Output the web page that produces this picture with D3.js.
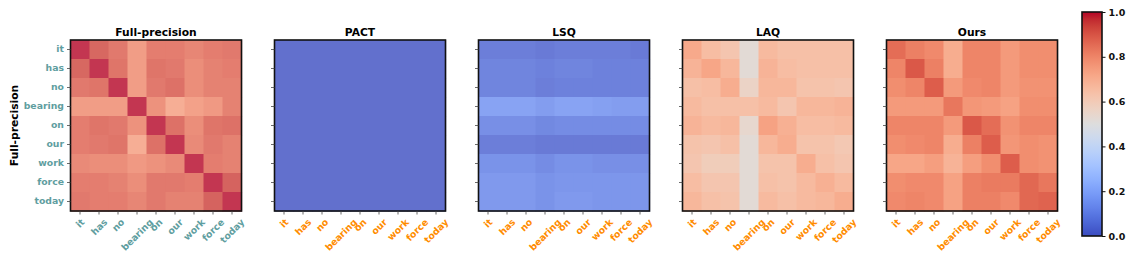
<!DOCTYPE html>
<html lang="en">
<head>
  <meta charset="utf-8">
  <title>Attention similarity</title>
  <script src="https://cdn.jsdelivr.net/npm/d3@7"></script>
  <style>
    body { margin: 0; background: #fff; }
    text { font-family: "DejaVu Sans", sans-serif; font-weight: bold; }
  </style>
</head>
<body>
<div class="chart"></div>

<script type="text/javascript">

// tokens on both axes
var tokens = ["it", "has", "no", "bearing", "on", "our", "work", "force", "today"];
var methods = ["Full-precision", "PACT", "LSQ", "LAQ", "Ours"];

// one 9x9 matrix per method (rows = tokens, cols = tokens)
var fullPrecision = [
  [1.00, 0.93, 0.89, 0.80, 0.88, 0.88, 0.86, 0.88, 0.89],
  [0.93, 1.00, 0.90, 0.80, 0.90, 0.89, 0.84, 0.87, 0.88],
  [0.89, 0.90, 1.00, 0.80, 0.89, 0.91, 0.84, 0.87, 0.87],
  [0.80, 0.80, 0.80, 1.00, 0.83, 0.75, 0.79, 0.81, 0.87],
  [0.88, 0.90, 0.89, 0.83, 1.00, 0.91, 0.84, 0.90, 0.91],
  [0.88, 0.89, 0.90, 0.75, 0.91, 1.00, 0.85, 0.89, 0.87],
  [0.85, 0.84, 0.84, 0.81, 0.83, 0.85, 1.00, 0.88, 0.87],
  [0.88, 0.88, 0.87, 0.84, 0.89, 0.89, 0.88, 1.00, 0.94],
  [0.89, 0.88, 0.88, 0.86, 0.89, 0.87, 0.87, 0.94, 1.00]
];
var pact = [
  [0, 0, 0, 0, 0, 0, 0, 0, 0],
  [0, 0, 0, 0, 0, 0, 0, 0, 0],
  [0, 0, 0, 0, 0, 0, 0, 0, 0],
  [0, 0, 0, 0, 0, 0, 0, 0, 0],
  [0, 0, 0, 0, 0, 0, 0, 0, 0],
  [0, 0, 0, 0, 0, 0, 0, 0, 0],
  [0, 0, 0, 0, 0, 0, 0, 0, 0],
  [0, 0, 0, 0, 0, 0, 0, 0, 0],
  [0, 0, 0, 0, 0, 0, 0, 0, 0]
];
var lsq = [
  [0.04, 0.04, 0.04, 0.03, 0.04, 0.04, 0.04, 0.04, 0.03],
  [0.06, 0.06, 0.06, 0.05, 0.06, 0.06, 0.05, 0.05, 0.05],
  [0.06, 0.06, 0.06, 0.04, 0.05, 0.05, 0.05, 0.05, 0.05],
  [0.15, 0.15, 0.15, 0.13, 0.15, 0.15, 0.14, 0.13, 0.13],
  [0.09, 0.09, 0.09, 0.07, 0.08, 0.08, 0.08, 0.08, 0.08],
  [0.04, 0.04, 0.04, 0.03, 0.03, 0.03, 0.03, 0.03, 0.03],
  [0.10, 0.10, 0.10, 0.08, 0.10, 0.10, 0.09, 0.09, 0.09],
  [0.12, 0.12, 0.12, 0.10, 0.11, 0.11, 0.11, 0.11, 0.11],
  [0.12, 0.12, 0.12, 0.10, 0.12, 0.12, 0.11, 0.11, 0.11]
];
var laq = [
  [0.71, 0.65, 0.62, 0.52, 0.66, 0.64, 0.64, 0.64, 0.64],
  [0.68, 0.72, 0.67, 0.52, 0.68, 0.65, 0.64, 0.64, 0.64],
  [0.64, 0.65, 0.70, 0.56, 0.67, 0.67, 0.63, 0.63, 0.62],
  [0.66, 0.64, 0.64, 0.64, 0.66, 0.62, 0.67, 0.67, 0.68],
  [0.68, 0.66, 0.67, 0.54, 0.73, 0.69, 0.65, 0.65, 0.66],
  [0.63, 0.62, 0.64, 0.52, 0.67, 0.70, 0.63, 0.63, 0.61],
  [0.62, 0.59, 0.59, 0.52, 0.63, 0.63, 0.70, 0.64, 0.62],
  [0.65, 0.62, 0.62, 0.52, 0.64, 0.63, 0.66, 0.69, 0.66],
  [0.67, 0.64, 0.63, 0.52, 0.66, 0.64, 0.66, 0.67, 0.70]
];
var ours = [
  [0.85, 0.81, 0.79, 0.70, 0.80, 0.80, 0.75, 0.78, 0.78],
  [0.80, 0.89, 0.81, 0.70, 0.80, 0.80, 0.75, 0.78, 0.78],
  [0.78, 0.80, 0.88, 0.75, 0.79, 0.80, 0.75, 0.77, 0.77],
  [0.75, 0.75, 0.75, 0.83, 0.76, 0.75, 0.73, 0.78, 0.78],
  [0.80, 0.80, 0.80, 0.75, 0.89, 0.85, 0.77, 0.80, 0.80],
  [0.78, 0.79, 0.80, 0.70, 0.81, 0.88, 0.76, 0.78, 0.77],
  [0.72, 0.72, 0.74, 0.68, 0.74, 0.78, 0.88, 0.78, 0.77],
  [0.78, 0.79, 0.79, 0.73, 0.81, 0.82, 0.82, 0.86, 0.83],
  [0.79, 0.80, 0.79, 0.73, 0.81, 0.81, 0.79, 0.86, 0.87]
];
var matrices = [fullPrecision, pact, lsq, laq, ours];
var colorbarTicks = [0.0, 0.2, 0.4, 0.6, 0.8, 1.0];

// matplotlib "coolwarm" (Moreland) sampled every 1/32
var coolwarm = ["#3b4cc0","#445acc","#4d68d7","#5775e1","#6282ea","#6c8ef1","#779af7","#82a5fb",
  "#8db0fe","#98b9ff","#a3c2ff","#aec9fd","#b8d0f9","#c2d5f4","#ccd9ee","#d5dbe6","#dddddd",
  "#e5d8d1","#ecd3c5","#f1ccb9","#f5c4ad","#f7bba0","#f7b194","#f7a687","#f49a7b","#f18d6f",
  "#ec7f63","#e57058","#de604d","#d55042","#cb3e38","#c0282f","#b40426"];
var cmap = d3.scaleLinear()
  .domain(coolwarm.map(function(c, i) { return i / (coolwarm.length - 1); }))
  .range(coolwarm)
  .interpolate(d3.interpolateRgb)
  .clamp(true);

var width = 1136, height = 256;
var size = 171, panelTop = 40, left0 = 70.5, step = 204;
var cellAlpha = [0.8, 0.8, 0.8, 1, 1];   // first three panels are washed out
var teal = "#5f9ea0", orange = "#ff8c00";

var svg = d3.select(".chart").append("svg")
  .attr("width", width)
  .attr("height", height);

var band = d3.scaleBand().domain(tokens).range([0, size]);

methods.forEach(function(name, m) {
  var g = svg.append("g")
    .attr("transform", "translate(" + (left0 + m * step) + "," + panelTop + ")");

  var cells = [];
  matrices[m].forEach(function(row, i) {
    row.forEach(function(v, j) { cells.push({r: tokens[i], c: tokens[j], v: v}); });
  });

  // blend with white instead of fill-opacity so overlapping edges don't show
  var wash = function(v) { return d3.interpolateRgb("#fff", cmap(v))(cellAlpha[m]); };

  g.selectAll("rect.cell")
    .data(cells)
    .enter().append("rect")
    .attr("class", "cell")
    .attr("x", function(d) { return band(d.c); })
    .attr("y", function(d) { return band(d.r); })
    .attr("width", band.bandwidth() + 0.6)
    .attr("height", band.bandwidth() + 0.6)
    .attr("fill", function(d) { return wash(d.v); });

  g.append("rect")
    .attr("width", size).attr("height", size)
    .attr("fill", "none").attr("stroke", "#111").attr("stroke-width", 1.6);

  g.append("text")
    .attr("x", size / 2).attr("y", -4.5)
    .attr("text-anchor", "middle")
    .style("font-size", "10.7px")
    .text(name);

  var labelColor = m === 0 ? teal : orange;

  // y axis (labels only on the first panel)
  var ya = g.append("g")
    .call(d3.axisLeft(band).tickSizeOuter(0).tickSizeInner(3.5).tickPadding(3));
  ya.select(".domain").remove();
  ya.selectAll("line").attr("stroke", "#444").attr("stroke-width", 0.8);
  ya.selectAll("text")
    .style("font-size", "9.3px").style("font-family", "DejaVu Sans")
    .attr("fill", teal)
    .attr("opacity", m === 0 ? 1 : 0);

  // x axis, labels turned 45 degrees and centred under each tick
  var xa = g.append("g")
    .attr("transform", "translate(0," + size + ")")
    .call(d3.axisBottom(band).tickSizeOuter(0).tickSizeInner(3.5));
  xa.select(".domain").remove();
  xa.selectAll("line").attr("stroke", "#444").attr("stroke-width", 0.8);
  xa.selectAll("text")
    .style("font-size", "9.3px").style("font-family", "DejaVu Sans")
    .attr("fill", labelColor)
    .attr("y", 0).attr("dy", null)
    .attr("text-anchor", "middle")
    .attr("dominant-baseline", "central")
    .attr("transform", function() {
      var L = this.getComputedTextLength();
      var h = (L + 9.3) * Math.SQRT1_2;
      return "translate(0," + (6 + h / 2) + ") rotate(-45)";
    });
});

// shared y label
svg.append("text")
  .attr("transform", "translate(18," + (panelTop + size / 2) + ") rotate(-90)")
  .attr("text-anchor", "middle")
  .style("font-size", "10.7px")
  .text("Full-precision");

// colour bar
var cbX = 1082, cbY0 = 12, cbY1 = 236, cbW = 20;
var grad = svg.append("defs").append("linearGradient")
  .attr("id", "cw").attr("x1", 0).attr("y1", 1).attr("x2", 0).attr("y2", 0);
grad.selectAll("stop")
  .data(coolwarm)
  .enter().append("stop")
  .attr("offset", function(d, i) { return i / (coolwarm.length - 1); })
  .attr("stop-color", function(d) { return d; });

svg.append("rect")
  .attr("x", cbX).attr("y", cbY0)
  .attr("width", cbW).attr("height", cbY1 - cbY0)
  .attr("fill", "url(#cw)")
  .attr("stroke", "#111").attr("stroke-width", 1.6);

var cbScale = d3.scaleLinear().domain([0, 1]).range([cbY1, cbY0]);
var cba = svg.append("g")
  .attr("transform", "translate(" + (cbX + cbW) + ",0)")
  .call(d3.axisRight(cbScale).tickValues(colorbarTicks).tickFormat(d3.format(".1f"))
    .tickSizeOuter(0).tickSizeInner(3.5).tickPadding(3));
cba.select(".domain").remove();
cba.selectAll("line").attr("stroke", "#111");
cba.selectAll("text")
  .style("font-size", "9.5px").style("font-family", "DejaVu Sans")
  .attr("fill", "#111");

</script>
</body>
</html>
